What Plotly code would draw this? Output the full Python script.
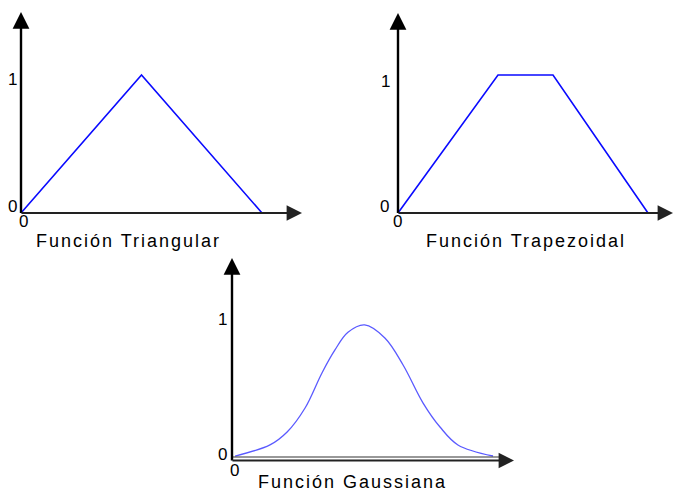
import plotly.graph_objects as go

W, H = 674, 492

# ---- data ----
tri_x = [0, 5, 10]
tri_y = [0, 1, 0]

trap_x = [0, 4, 6.2, 10]
trap_y = [0, 1, 1, 0]

gauss_x = [0.12, 1.46, 2.12, 2.81, 3.46, 3.96, 4.46, 5.1, 5.88, 6.58, 7.35, 8.0, 8.69, 10.04]
gauss_y = [0.014, 0.092, 0.183, 0.352, 0.599, 0.761, 0.885, 0.937, 0.845, 0.655, 0.387, 0.218, 0.092, 0.014]

titles = ["Función Triangular", "Función Trapezoidal", "Función Gaussiana"]
one_label = "1"
zero_label = "0"

# ---- panel geometry (pixels) ----
panels = [
    dict(dom=(0, 337, 0, 246), o=(21, 213), s=(24.1, 138), xtip=302, ytip=12),
    dict(dom=(337, 674, 0, 246), o=(398, 213), s=(25.0, 138), xtip=673, ytip=13),
    dict(dom=(150, 560, 246, 492), o=(232, 458), s=(26.0, 142), xtip=514, ytip=258),
]

fig = go.Figure()
series = [(tri_x, tri_y, "#0a0aff", 1.6),
          (trap_x, trap_y, "#0a0aff", 1.6),
          (gauss_x, gauss_y, "#5a5aff", 1.3)]

annotations = []
shapes = []

def px2paper(px, py):
    return px / W, 1 - py / H

for i, (p, (xs, ys, col, lw)) in enumerate(zip(panels, series)):
    n = "" if i == 0 else str(i + 1)
    x0, x1, yt, yb = p["dom"]
    ox, oy = p["o"]
    sx, sy = p["s"]
    fig.add_trace(go.Scatter(x=xs, y=ys, mode="lines",
                             line=dict(color=col, width=lw,
                                       shape="spline" if i == 2 else "linear",
                                       smoothing=1.0),
                             xaxis="x" + n, yaxis="y" + n, showlegend=False,
                             hoverinfo="skip", cliponaxis=False))
    fig.layout["xaxis" + n] = dict(domain=[x0 / W, x1 / W],
                                   range=[(x0 - ox) / sx, (x1 - ox) / sx],
                                   visible=False, anchor="y" + n, fixedrange=True)
    fig.layout["yaxis" + n] = dict(domain=[1 - yb / H, 1 - yt / H],
                                   range=[(oy - yb) / sy, (oy - yt) / sy],
                                   visible=False, anchor="x" + n, fixedrange=True)
    xr, yr = "x" + n, "y" + n
    hy = (oy - (460.5 if i == 2 else 213)) / sy  # horizontal axis level
    annotations.append(dict(x=0, y=(oy - p["ytip"]) / sy, ax=0, ay=hy - 0.01,
                            xref=xr, yref=yr, axref=xr, ayref=yr, text="",
                            showarrow=True, arrowhead=2, arrowsize=1.4,
                            arrowwidth=2.4, arrowcolor="#000000", standoff=0))
    annotations.append(dict(x=(p["xtip"] - ox) / sx, y=hy, ax=-0.04, ay=hy,
                            xref=xr, yref=yr, axref=xr, ayref=yr, text="",
                            showarrow=True, arrowhead=2, arrowsize=1.4,
                            arrowwidth=2.2, arrowcolor="#222222", standoff=0))
    if i == 2:
        shapes.append(dict(type="line", xref=xr, yref=yr, x0=0, x1=(500 - ox) / sx,
                           y0=(oy - 457) / sy, y1=(oy - 457) / sy,
                           line=dict(color="#333333", width=1.2)))

label_pos = [
    (one_label, 12, 79, 17), (zero_label, 12, 206, 17), (zero_label, 23, 222, 17),
    (one_label, 385, 82, 17), (zero_label, 384, 206, 17), (zero_label, 397, 221, 17),
    (one_label, 222, 319, 17), (zero_label, 222, 454, 17), (zero_label, 234, 470, 17),
]
for t, px, py, sz in label_pos:
    xp, yp = px2paper(px, py)
    annotations.append(dict(x=xp, y=yp, xref="paper", yref="paper", text=t,
                            showarrow=False, xanchor="center", yanchor="middle",
                            font=dict(family="Liberation Sans, Arial", size=sz, color="#000000")))

title_pos = [(128, 241), (526, 241), (352, 482)]
for t, (px, py) in zip(titles, title_pos):
    xp, yp = px2paper(px, py)
    annotations.append(dict(x=xp, y=yp, xref="paper", yref="paper",
                            text='<span style="letter-spacing:2px">' + t + '</span>',
                            showarrow=False, xanchor="center", yanchor="middle",
                            borderpad=0,
                            font=dict(family="Liberation Sans, Arial", size=18, color="#000000")))

fig.update_layout(width=W, height=H, margin=dict(l=0, r=0, t=0, b=0),
                  paper_bgcolor="white", plot_bgcolor="rgba(0,0,0,0)",
                  annotations=annotations, shapes=shapes, showlegend=False)

fig.write_html("out.html", config={"displayModeBar": False},
               post_script="document.body.style.margin='0px';document.body.style.overflow='hidden';")
